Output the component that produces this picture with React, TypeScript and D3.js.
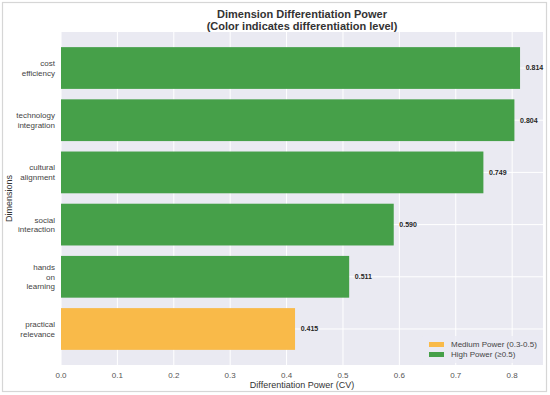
import React from "react";
import * as d3 from "d3";

const categories = ["practical\nrelevance", "hands\non\nlearning", "social\ninteraction", "cultural\nalignment", "technology\nintegration", "cost\nefficiency"];
const values = [0.415, 0.511, 0.59, 0.749, 0.804, 0.814];
const levels = ["medium", "high", "high", "high", "high", "high"];
const xTicks = [0, 0.1, 0.2, 0.3, 0.4, 0.5, 0.6, 0.7, 0.8];
const legendItems = [
  { key: "medium", label: "Medium Power (0.3-0.5)" },
  { key: "high", label: "High Power (≥0.5)" },
];

const W = 550, H = 395;
const left = 61, right = 543, top = 32, bottom = 365;
const colors: Record<string, string> = { medium: "#F9BA49", high: "#46A049" };
const font = "'Liberation Sans', Arial, sans-serif";

export default function App() {
  const xMax = d3.max(values)! * 1.05;
  const x = d3.scaleLinear().domain([0, xMax]).range([left, right]);
  const n = categories.length;
  const yPad = (n - 1 + 0.8) * 0.05;
  const y = d3.scaleLinear().domain([-0.4 - yPad, n - 1 + 0.4 + yPad]).range([bottom, top]);
  const bh = y(0) - y(0.8);

  return (
    <svg width={W} height={H} style={{ position: "absolute", left: 0, top: 0, background: "#fff" }} fontFamily={font}>
      <rect x={2.5} y={2.5} width={544} height={389} fill="#fff" stroke="#d6d6d6" strokeWidth={1.2} />
      <text x={(left + right) / 2} y={18} textAnchor="middle" fontSize={11} fontWeight="bold" fill="#333">Dimension Differentiation Power</text>
      <text x={(left + right) / 2} y={30} textAnchor="middle" fontSize={11} fontWeight="bold" fill="#333">(Color indicates differentiation level)</text>
      <rect x={left} y={top} width={right - left} height={bottom - top} fill="#EAEAF2" />
      {xTicks.map((t) => (
        <line key={"gx" + t} x1={x(t)} x2={x(t)} y1={top} y2={bottom} stroke="#fff" strokeWidth={1} />
      ))}
      {categories.map((c, i) => (
        <line key={"gy" + i} x1={left} x2={right} y1={y(i)} y2={y(i)} stroke="#fff" strokeWidth={1} />
      ))}
      {values.map((v, i) => (
        <rect key={"b" + i} x={x(0)} y={y(i + 0.4)} width={x(v) - x(0)} height={bh} fill={colors[levels[i]]} />
      ))}
      {values.map((v, i) => (
        <text key={"v" + i} x={x(v + 0.01)} y={y(i)} dy="0.35em" fontSize={7} fontWeight="bold" fill="#262626">{v.toFixed(3)}</text>
      ))}
      {categories.map((c, i) => {
        const lines = c.split("\n");
        const lh = 9.5;
        const start = y(i) - ((lines.length - 1) * lh) / 2;
        return (
          <text key={"yl" + i} x={55} textAnchor="end" fontSize={8} fill="#444">
            {lines.map((l, j) => (
              <tspan key={j} x={55} y={start + j * lh} dy="0.35em">{l}</tspan>
            ))}
          </text>
        );
      })}
      {xTicks.map((t) => (
        <text key={"xt" + t} x={x(t)} y={378} textAnchor="middle" fontSize={8} fill="#555">{t.toFixed(1)}</text>
      ))}
      <text x={(left + right) / 2} y={388} textAnchor="middle" fontSize={9} fill="#333">Differentiation Power (CV)</text>
      <text transform={`translate(12,${(top + bottom) / 2}) rotate(-90)`} textAnchor="middle" fontSize={9} fill="#333">Dimensions</text>
      <g>
        <rect x={422} y={336} width={120} height={27} fill="#EAEAF2" opacity={0.8} rx={2} />
        {legendItems.map((it, i) => (
          <g key={it.key}>
            <rect x={429} y={342 + i * 10} width={15} height={5} fill={colors[it.key]} />
            <text x={451} y={344.5 + i * 10} dy="0.35em" fontSize={8} fill="#444">{it.label}</text>
          </g>
        ))}
      </g>
    </svg>
  );
}
